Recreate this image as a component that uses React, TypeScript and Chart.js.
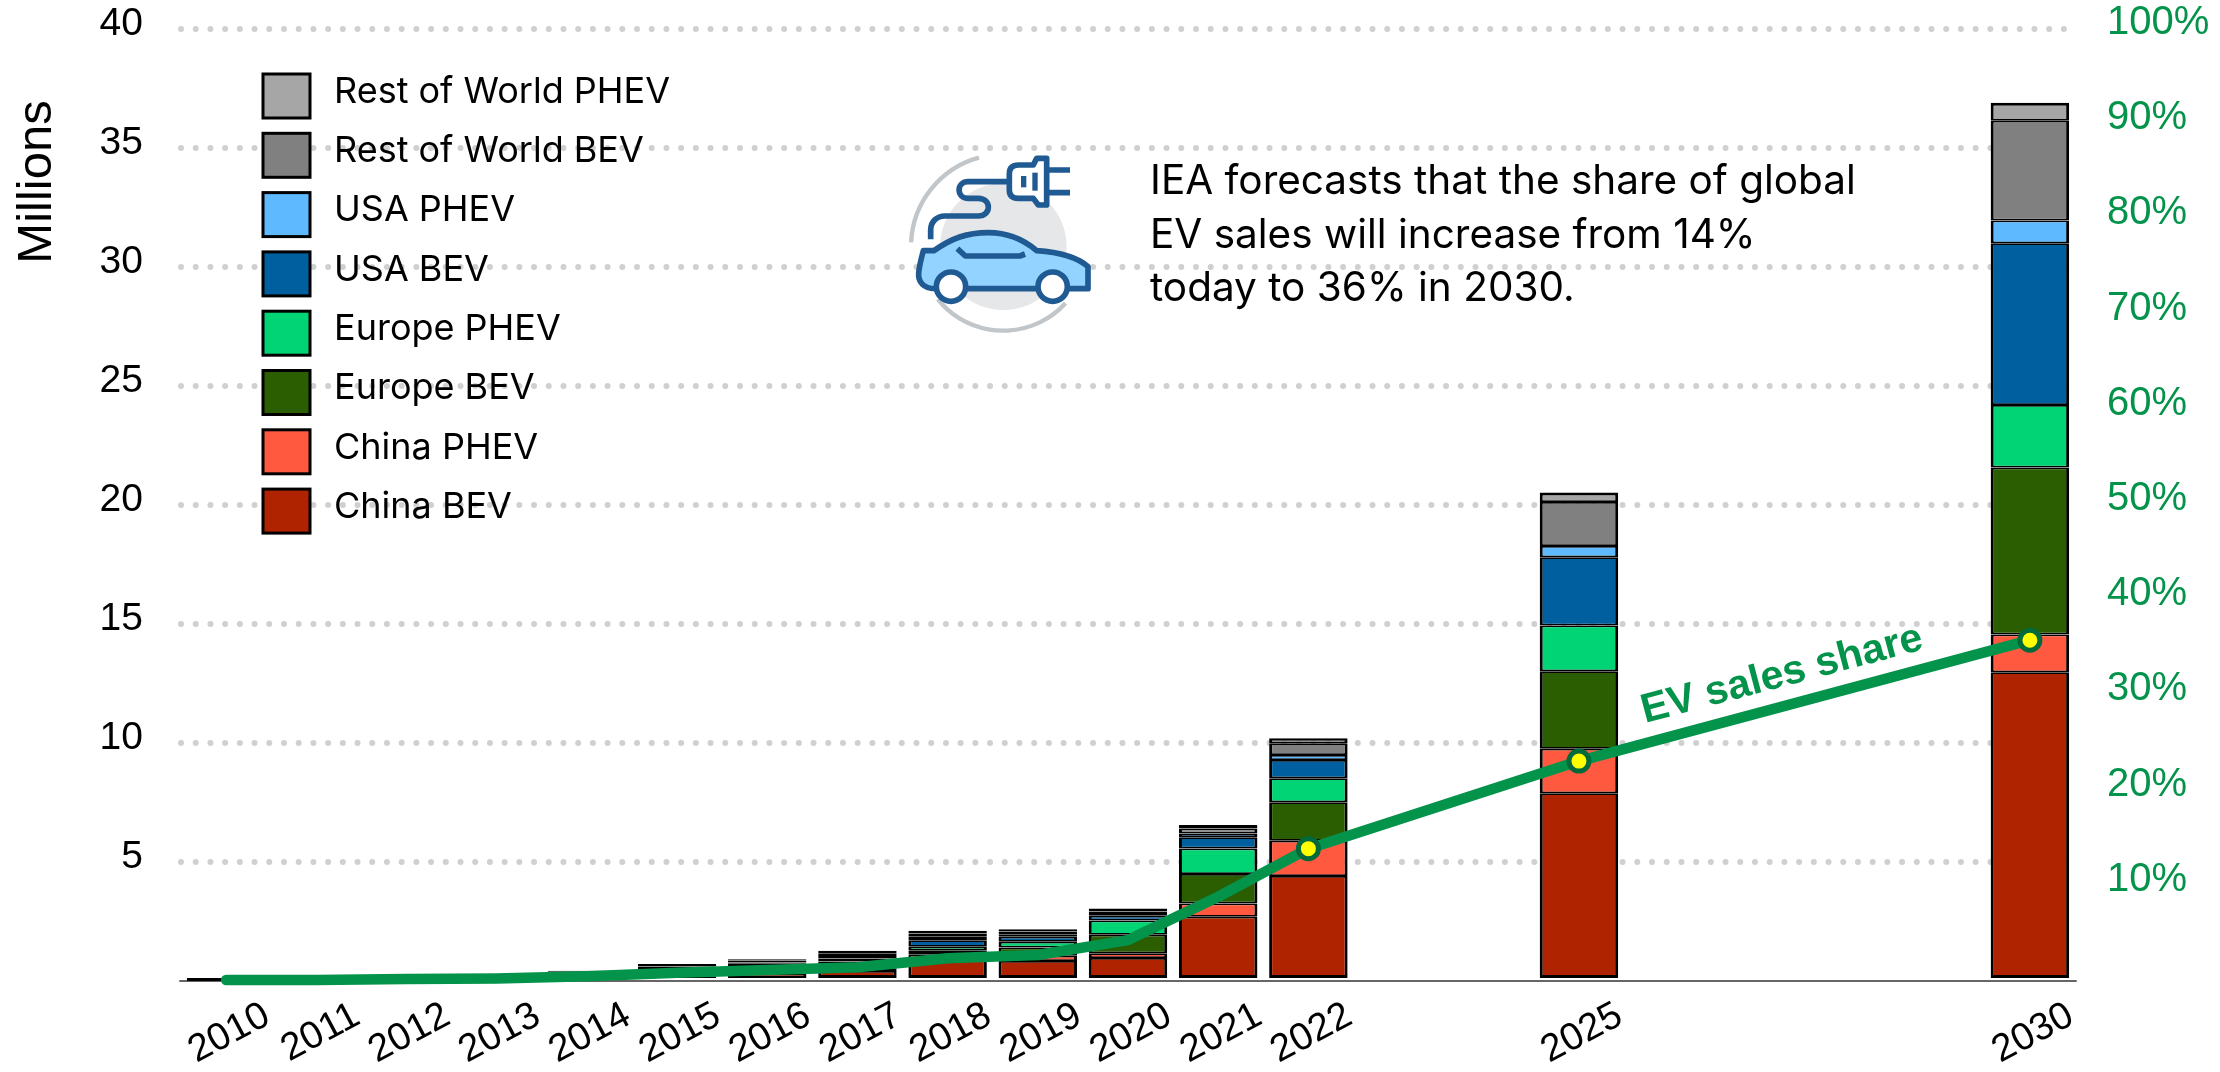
import React, { useEffect, useRef } from "react";
import { Chart, registerables } from "chart.js";

Chart.register(...registerables);

const years = ["2010","2011","2012","2013","2014","2015","2016","2017","2018","2019","2020","2021","2022","2023","2024","2025","2026","2027","2028","2029","2030"];
const labelledYears = ["2010","2011","2012","2013","2014","2015","2016","2017","2018","2019","2020","2021","2022","2025","2030"];
const markerYears = ["2022","2025","2030"];

const chinaBev = [0.004,0.01,0.01,0.02,0.05,0.2,0.3,0.42,0.88,0.84,0.97,2.7,4.41,null,null,7.89,null,null,null,null,12.97];
const chinaPhev = [0,0,0,0.01,0.02,0.07,0.1,0.12,0.24,0.22,0.2,0.56,1.48,null,null,1.87,null,null,null,null,1.59];
const europeBev = [0.002,0.01,0.02,0.03,0.06,0.1,0.12,0.14,0.15,0.35,0.77,1.24,1.62,null,null,3.25,null,null,null,null,7.02];
const europePhev = [0,0,0,0.02,0.06,0.09,0.1,0.14,0.17,0.24,0.6,1.07,1.01,null,null,1.93,null,null,null,null,2.62];
const usaBev = [0.004,0.01,0.02,0.05,0.08,0.09,0.1,0.13,0.27,0.21,0.2,0.47,0.77,null,null,2.86,null,null,null,null,6.8];
const usaPhev = [0,0.01,0.04,0.05,0.07,0.06,0.06,0.1,0.15,0.1,0.08,0.16,0.21,null,null,0.48,null,null,null,null,0.95];
const restBev = [0.005,0.01,0.02,0.02,0.05,0.06,0.08,0.12,0.14,0.12,0.1,0.21,0.49,null,null,1.85,null,null,null,null,4.19];
const restPhev = [0.005,0.01,0.02,0.02,0.04,0.04,0.05,0.1,0.11,0.09,0.13,0.14,0.21,null,null,0.39,null,null,null,null,0.76];
const evShare = [0.1,0.1,0.2,0.25,0.5,0.87,1.15,1.44,2.38,2.73,4.3,8.85,13.9,null,null,23.1,null,null,null,null,35.8];

const annotationLines = ["IEA forecasts that the share of global", "EV sales will increase from 14%", "today to 36% in 2030."];

const GREEN = "#03934a";
const SANS = '"Liberation Sans"';
const SOFT = "Inter";

function stackSegment(label: string, data: (number | null)[], color: string, top = 1.75, bottom = 1.75) {
  return {
    type: "bar" as const,
    label,
    data,
    backgroundColor: color,
    borderColor: "#000000",
    borderWidth: { top, bottom, left: 3, right: 3 },
    borderSkipped: false,
    barPercentage: 0.87,
    categoryPercentage: 1,
    yAxisID: "y",
    order: 1,
  };
}

// Plug-and-car pictogram, laid out on a 3x grid and scaled down when painted.
function drawIcon(ctx: CanvasRenderingContext2D) {
  const navy = "#1f5a93";
  ctx.save();
  ctx.translate(880, 130);
  ctx.scale(1 / 3, 1 / 3);
  ctx.lineCap = "butt";
  ctx.lineJoin = "round";

  ctx.fillStyle = "#e6e7e8";
  ctx.beginPath();
  ctx.arc(370, 350, 190, 0, Math.PI * 2);
  ctx.fill();

  ctx.strokeStyle = "#c0c6ca";
  ctx.lineWidth = 13;
  ctx.beginPath();
  ctx.arc(370, 350, 277, Math.PI * 1.015, Math.PI * 1.415);
  ctx.stroke();
  ctx.beginPath();
  ctx.arc(370, 350, 252, Math.PI * 0.235, Math.PI * 0.785);
  ctx.stroke();

  ctx.strokeStyle = navy;
  ctx.lineWidth = 17;
  ctx.beginPath();
  ctx.moveTo(152, 328);
  ctx.lineTo(152, 300);
  ctx.bezierCurveTo(152, 275, 170, 258, 195, 258);
  ctx.lineTo(295, 258);
  ctx.bezierCurveTo(335, 258, 335, 205, 295, 205);
  ctx.lineTo(265, 205);
  ctx.bezierCurveTo(228, 205, 228, 155, 265, 155);
  ctx.lineTo(390, 155);
  ctx.stroke();

  ctx.fillStyle = "#ffffff";
  ctx.beginPath();
  ctx.moveTo(500, 85);
  ctx.lineTo(470, 85);
  ctx.lineTo(460, 105);
  ctx.lineTo(415, 105);
  ctx.quadraticCurveTo(388, 105, 388, 132);
  ctx.lineTo(388, 180);
  ctx.quadraticCurveTo(388, 205, 415, 205);
  ctx.lineTo(460, 205);
  ctx.lineTo(475, 225);
  ctx.lineTo(500, 225);
  ctx.closePath();
  ctx.fill();
  ctx.stroke();
  ctx.beginPath();
  ctx.moveTo(500, 120);
  ctx.lineTo(570, 120);
  ctx.moveTo(500, 188);
  ctx.lineTo(570, 188);
  ctx.stroke();
  ctx.fillStyle = navy;
  ctx.fillRect(423, 138, 16, 34);
  ctx.fillRect(457, 128, 16, 54);

  ctx.fillStyle = "#93d3ff";
  ctx.beginPath();
  ctx.moveTo(162, 362);
  ctx.bezierCurveTo(215, 325, 260, 308, 325, 308);
  ctx.bezierCurveTo(385, 308, 430, 328, 470, 362);
  ctx.bezierCurveTo(530, 366, 590, 380, 624, 410);
  ctx.lineTo(624, 476);
  ctx.lineTo(165, 476);
  ctx.bezierCurveTo(130, 476, 114, 455, 116, 430);
  ctx.bezierCurveTo(118, 405, 124, 385, 130, 362);
  ctx.closePath();
  ctx.fill();
  ctx.stroke();

  ctx.beginPath();
  ctx.moveTo(232, 356);
  ctx.lineTo(256, 378);
  ctx.lineTo(420, 378);
  ctx.lineTo(435, 372);
  ctx.stroke();

  ctx.fillStyle = "#ffffff";
  for (const cx of [213, 518]) {
    ctx.beginPath();
    ctx.arc(cx, 470, 44, 0, Math.PI * 2);
    ctx.fill();
    ctx.stroke();
  }
  ctx.restore();
}

// Round caps turn the dashed horizontal rules into rows of dots.
const roundDots = {
  id: "roundDots",
  beforeDraw(chart: any) {
    chart.ctx.lineCap = "round";
  },
};

const overlay = {
  id: "overlay",
  afterDatasetsDraw(chart: any) {
    const ctx: CanvasRenderingContext2D = chart.ctx;
    ctx.save();
    ctx.lineCap = "butt";

    // Legend, top of the stack first.
    const bars = chart.data.datasets.filter((d: any) => d.type === "bar").slice().reverse();
    bars.forEach((d: any, i: number) => {
      const top = 74 + i * 59.3;
      ctx.fillStyle = d.backgroundColor;
      ctx.strokeStyle = "#000000";
      ctx.lineWidth = 3;
      ctx.fillRect(263, top, 47, 44);
      ctx.strokeRect(263, top, 47, 44);
      ctx.fillStyle = "#000000";
      ctx.font = `36px ${SOFT}`;
      ctx.textAlign = "left";
      ctx.textBaseline = "middle";
      ctx.fillText(d.label, 334, top + 18);
    });

    // Axis caption.
    ctx.save();
    ctx.translate(37, 182);
    ctx.rotate(-Math.PI / 2);
    ctx.textAlign = "center";
    ctx.textBaseline = "middle";
    ctx.fillStyle = "#000000";
    ctx.font = `49px ${SANS}`;
    ctx.fillText("Millions", 0, 0);
    ctx.restore();

    drawIcon(ctx);

    ctx.fillStyle = "#000000";
    ctx.font = `40.5px ${SOFT}`;
    ctx.textAlign = "left";
    ctx.textBaseline = "middle";
    annotationLines.forEach((line, i) => ctx.fillText(line, 1150, 182 + i * 53.4));

    ctx.save();
    ctx.translate(1782, 675);
    ctx.rotate((-14.8 * Math.PI) / 180);
    ctx.fillStyle = GREEN;
    ctx.font = `bold 41px ${SANS}`;
    ctx.textAlign = "center";
    ctx.textBaseline = "middle";
    ctx.fillText("EV sales share", 0, 0);
    ctx.restore();
    ctx.restore();
  },
};

// The plot edges are fixed by hand, so labels must not push them inward.
function fitVertical(width: number) {
  return (s: any) => {
    s.width = width;
    s.paddingTop = 0;
    s.paddingBottom = 0;
  };
}

export default function App() {
  const ref = useRef<HTMLCanvasElement>(null);

  useEffect(() => {
    if (!ref.current) return;
    const chart = new Chart(ref.current, {
      type: "bar",
      data: {
        labels: years,
        datasets: [
          stackSegment("China BEV", chinaBev, "#b02300", 1.75, 3),
          stackSegment("China PHEV", chinaPhev, "#ff5a40"),
          stackSegment("Europe BEV", europeBev, "#2b5e00"),
          stackSegment("Europe PHEV", europePhev, "#00d474"),
          stackSegment("USA BEV", usaBev, "#005f9e"),
          stackSegment("USA PHEV", usaPhev, "#5fb9ff"),
          stackSegment("Rest of World BEV", restBev, "#808080"),
          stackSegment("Rest of World PHEV", restPhev, "#a6a6a6", 3, 1.75),
          {
            type: "line" as const,
            label: "EV sales share",
            data: evShare,
            yAxisID: "y1",
            order: 0,
            clip: false,
            spanGaps: true,
            tension: 0,
            borderColor: GREEN,
            borderWidth: 10.5,
            borderCapStyle: "round",
            borderJoinStyle: "round",
            pointBackgroundColor: "#ffff00",
            pointBorderColor: "#006a3b",
            pointBorderWidth: 5,
            pointRadius: (c: any) => (markerYears.includes(years[c.dataIndex]) ? 10 : 0),
          },
        ] as any,
      },
      options: {
        responsive: false,
        animation: false,
        layout: { padding: { top: 29, left: 0, right: 0, bottom: 0 } },
        plugins: { legend: { display: false }, tooltip: { enabled: false }, title: { display: false } },
        scales: {
          x: {
            stacked: true,
            grid: { display: false },
            border: { display: true, color: "#666666", width: 2 },
            afterFit: (s: any) => {
              s.height = 91;
              s.paddingLeft = 0;
              s.paddingRight = 0;
            },
            ticks: {
              autoSkip: false,
              maxRotation: 28,
              minRotation: 28,
              padding: 4,
              labelOffset: 41,
              color: "#000000",
              font: { family: SANS, size: 38.5 },
              callback: (_v: any, i: number) => (labelledYears.includes(years[i]) ? years[i] : ""),
            },
          },
          y: {
            stacked: true,
            min: 0,
            max: 40,
            afterFit: fitVertical(181),
            border: { display: false, dash: [0.01, 14.7] },
            grid: {
              lineWidth: 6,
              drawTicks: false,
              color: (c: any) => (c.tick.value === 0 ? "rgba(0,0,0,0)" : "#d0d0d0"),
            },
            ticks: {
              stepSize: 5,
              padding: 38,
              labelOffset: -5,
              color: "#000000",
              font: { family: SANS, size: 39 },
              callback: (v: any) => (v === 0 ? "" : String(v)),
            },
          },
          y1: {
            position: "right",
            min: 0,
            max: 100,
            afterFit: fitVertical(145),
            grid: { display: false, drawOnChartArea: false },
            border: { display: false },
            ticks: {
              stepSize: 10,
              padding: 24,
              labelOffset: -6,
              color: GREEN,
              font: { family: SANS, size: 40 },
              callback: (v: any) => (v === 0 ? "" : `${v}%`),
            },
          },
        },
      } as any,
      plugins: [roundDots, overlay],
    });
    return () => chart.destroy();
  }, []);

  return (
    <div style={{ position: "absolute", left: 0, top: 0, width: 2220, height: 1072, background: "#ffffff" }}>
      <canvas ref={ref} width={2220} height={1072} style={{ display: "block" }} />
    </div>
  );
}
